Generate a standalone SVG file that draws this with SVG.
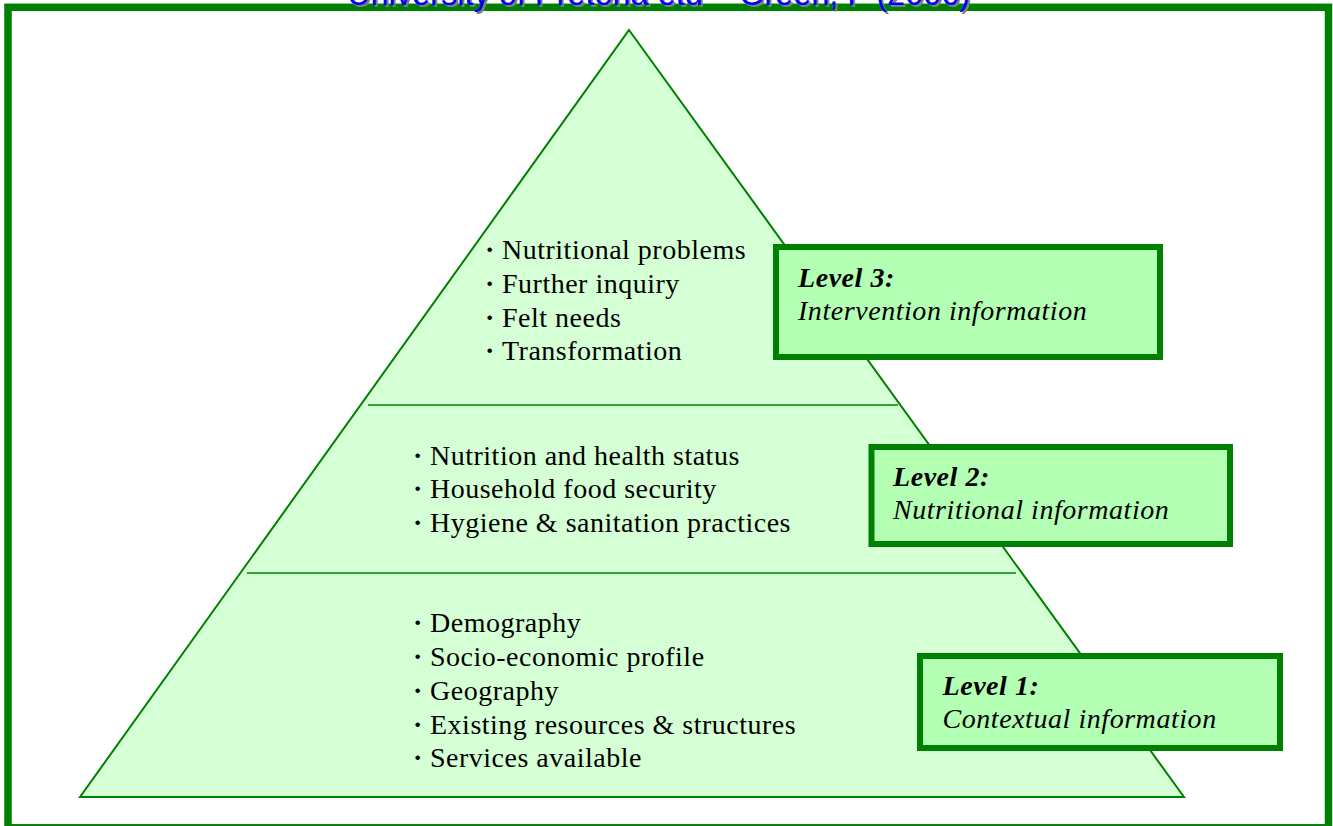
<svg xmlns="http://www.w3.org/2000/svg" width="1333" height="826" viewBox="0 0 1333 826">
<style>
.frame{fill:#FFFFFF;stroke:#008000;stroke-width:7.5}
.pyr{fill:#D5FFD5;stroke:#008000;stroke-width:2;stroke-linejoin:miter}
.div{stroke:#008000;stroke-width:1.5;fill:none}
.box{fill:#B3FFB3;stroke:#008000;stroke-width:6}
.item{font-family:"Liberation Serif","Times New Roman",serif;font-size:28px;letter-spacing:0.5px;fill:#000}
.bul{font-weight:bold}
.lvl{font-family:"Liberation Serif","Times New Roman",serif;font-size:28px;font-style:italic;letter-spacing:0.55px;fill:#000}
.lvlb{font-weight:bold}
.hdr{font-family:"Liberation Sans",Arial,sans-serif;font-size:32.5px}
</style>
<rect class="frame" x="8" y="7.3" width="1320.5" height="820.5"/>
<g id="header">
<text class="hdr" x="349" y="7" fill="#7f7f7f">University of Pretoria etd – Green, F (2006)</text>
<text class="hdr" x="347" y="5" fill="#0000FF">University of Pretoria etd – Green, F (2006)</text>
</g>
<g id="pyramid">
<polygon class="pyr" points="629,30 1184,797 80,797"/>
<line class="div" x1="368" y1="405" x2="898" y2="405"/>
<line class="div" x1="247" y1="573" x2="1016" y2="573"/>
</g>
<g id="tier3-items">
<text class="item" y="259"><tspan class="bul" x="485">·</tspan><tspan x="502">Nutritional problems</tspan></text>
<text class="item" y="293"><tspan class="bul" x="485">·</tspan><tspan x="502">Further inquiry</tspan></text>
<text class="item" y="326.5"><tspan class="bul" x="485">·</tspan><tspan x="502">Felt needs</tspan></text>
<text class="item" y="360"><tspan class="bul" x="485">·</tspan><tspan x="502">Transformation</tspan></text>
</g>
<g id="tier2-items">
<text class="item" y="464.5"><tspan class="bul" x="413">·</tspan><tspan x="430">Nutrition and health status</tspan></text>
<text class="item" y="498"><tspan class="bul" x="413">·</tspan><tspan x="430">Household food security</tspan></text>
<text class="item" y="531.5"><tspan class="bul" x="413">·</tspan><tspan x="430">Hygiene &amp; sanitation practices</tspan></text>
</g>
<g id="tier1-items">
<text class="item" y="632"><tspan class="bul" x="413">·</tspan><tspan x="430">Demography</tspan></text>
<text class="item" y="666"><tspan class="bul" x="413">·</tspan><tspan x="430">Socio-economic profile</tspan></text>
<text class="item" y="699.5"><tspan class="bul" x="413">·</tspan><tspan x="430">Geography</tspan></text>
<text class="item" y="733.5"><tspan class="bul" x="413">·</tspan><tspan x="430">Existing resources &amp; structures</tspan></text>
<text class="item" y="767"><tspan class="bul" x="413">·</tspan><tspan x="430">Services available</tspan></text>
</g>
<g id="level3">
<rect class="box" x="776" y="247" width="384" height="110"/>
<text class="lvl lvlb" x="798" y="287">Level 3:</text>
<text class="lvl" x="798" y="320">Intervention information</text>
</g>
<g id="level2">
<rect class="box" x="871.5" y="447" width="358.5" height="97"/>
<text class="lvl lvlb" x="893" y="486">Level 2:</text>
<text class="lvl" x="893" y="519">Nutritional information</text>
</g>
<g id="level1">
<rect class="box" x="920" y="656" width="360" height="92"/>
<text class="lvl lvlb" x="942.5" y="694.5">Level 1:</text>
<text class="lvl" x="942.5" y="728">Contextual information</text>
</g>
</svg>
